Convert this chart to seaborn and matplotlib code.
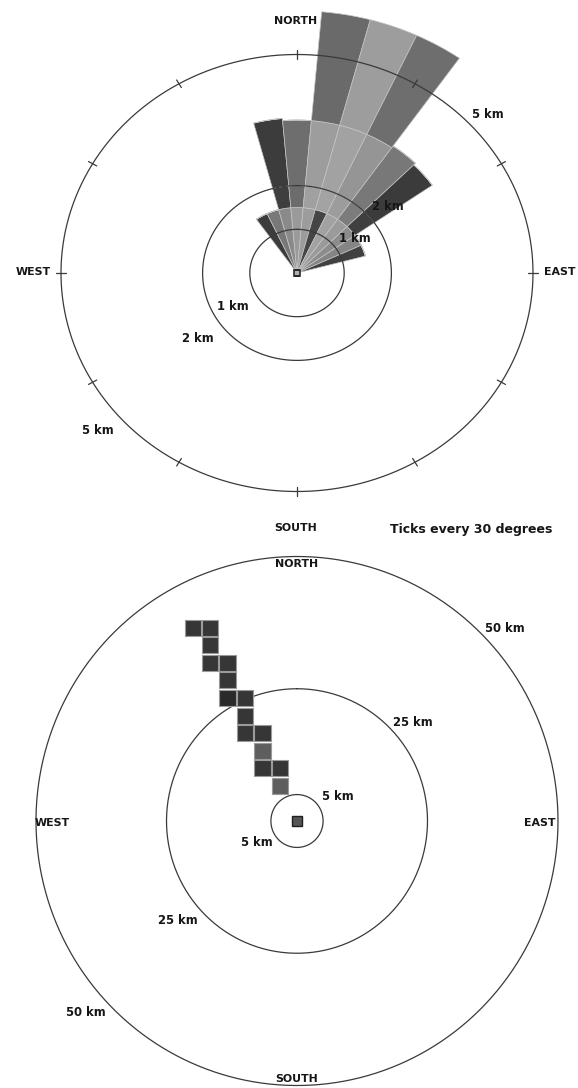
import numpy as np
import matplotlib
matplotlib.use("Agg")
import matplotlib.pyplot as plt
import seaborn as sns
import pandas as pd

# ---- top chart: sector rose (directions in degrees clockwise from north) ----
sector_dirs = [-30, -20, -10, 0, 10, 20, 30, 40, 50, 60, 70]
# stacked ring segments, km
ring_inner = [1.5, 1.5, 1.5, 1.5, 1.5, 1.5, 1.5, 1.5, 1.5, 1.5, 1.5]
ring_mid = [0, 0, 0.5, 0.5, 0.5, 0.5, 0.5, 0.5, 0.5, 0, 0]
ring_upper = [0, 0, 1.55, 1.5, 1.5, 1.5, 1.5, 1.55, 1.5, 0, 0]
ring_outer = [0, 0, 0, 0, 2.5, 2.5, 2.5, 0, 0, 0, 0]
shade_inner = ["#3c3c3c", "#787878", "#8a8a8a", "#9a9a9a", "#9c9c9c", "#454545",
               "#a2a2a2", "#9a9a9a", "#8c8c8c", "#858585", "#404040"]
shade_mid = ["#3e3e3e", "#3e3e3e", "#3e3e3e", "#6c6c6c", "#a0a0a0", "#a3a3a3",
             "#9c9c9c", "#7c7c7c", "#3f3f3f", "#3f3f3f", "#3f3f3f"]
shade_upper = ["#3c3c3c", "#3c3c3c", "#3c3c3c", "#6e6e6e", "#9d9d9d", "#a2a2a2",
               "#959595", "#787878", "#3b3b3b", "#3b3b3b", "#3b3b3b"]
shade_outer = ["#6a6a6a", "#6a6a6a", "#6a6a6a", "#6a6a6a", "#6a6a6a", "#9d9d9d",
               "#6e6e6e", "#6e6e6e", "#6e6e6e", "#6e6e6e", "#6e6e6e"]
top_circles = [1, 2, 5]
tick_dirs = [0, 30, 60, 90, 120, 150, 180, 210, 240, 270, 300, 330]

# ---- bottom chart: grid cells of the track (km east / km north) ----
cell_east = [-19.9, -16.6, -16.6, -16.6, -13.3, -13.3, -13.3, -10.0,
             -10.0, -10.0, -6.6, -6.6, -6.6, -3.3, -3.3]
cell_north = [36.5, 36.5, 33.2, 29.9, 29.9, 26.6, 23.2, 23.2,
              19.9, 16.6, 16.6, 13.3, 10.0, 10.0, 6.6]
cell_shade = ["d", "d", "d", "d", "d", "d", "k", "d",
              "d", "d", "d", "m", "d", "d", "m"]
bottom_circles = [5, 25, 50]

W, H = 578, 1088
sns.set_style("white")
plt.rcParams['font.family'] = ['DejaVu Sans']
fig = plt.figure(figsize=(W / 100, H / 100), dpi=100)

LINE = "#3a3a3a"
FS_CAPS = 7.9
FS_KM = 8.4


def label(x, y, s, size=FS_KM, **kw):
    fig.text(x / W, 1 - y / H, s, ha="center", va="center",
             fontsize=size, fontweight="bold", color="#161616", **kw)


# ---------------- top polar axes, slightly wider than tall like the scan
cx, cy, R = 297, 273, 6.2
sx, sy = 47.2, 43.7
ax = fig.add_axes([(cx - R * sx) / W, 1 - (cy + R * sy) / H,
                   2 * R * sx / W, 2 * R * sy / H], projection="polar")
ax.set_theta_zero_location("N")
ax.set_theta_direction(-1)
ax.set_aspect("auto")
ax.set_rlim(0, R)

theta = np.deg2rad(sector_dirs)
width = np.deg2rad(10)
bottom = np.zeros(len(sector_dirs))
for heights, shades in [(ring_inner, shade_inner), (ring_mid, shade_mid),
                        (ring_upper, shade_upper), (ring_outer, shade_outer)]:
    h = np.array(heights, dtype=float)
    ax.bar(theta, h, width=width, bottom=bottom, color=shades,
           edgecolor="#c4c4c4", linewidth=0.5, zorder=2)
    bottom = bottom + h

t = np.linspace(0, 2 * np.pi, 400)
for r in top_circles:
    ax.plot(t, np.full_like(t, r), color=LINE, lw=0.9, zorder=3)
for d in tick_dirs:
    a = np.deg2rad(d)
    ax.plot([a, a], [4.9, 5.1], color=LINE, lw=0.9, zorder=3)
ax.plot([0], [0], marker="s", ms=5, mfc="#b0b0b0", mec="#2a2a2a",
        mew=1.2, zorder=4)
ax.grid(False)
ax.set_xticks([])
ax.set_yticks([])
ax.spines["polar"].set_visible(False)
ax.patch.set_alpha(0)

label(296, 21, "NORTH", FS_CAPS)
label(296, 528, "SOUTH", FS_CAPS)
label(33.5, 272, "WEST", FS_CAPS)
label(560, 272, "EAST", FS_CAPS)
label(471.5, 530, "Ticks every 30 degrees", 9.0)
label(488, 114, "5 km")
label(97.5, 431, "5 km")
label(388, 207, "2 km")
label(198, 339, "2 km")
label(355, 238, "1 km")
label(233, 307, "1 km")

# ---------------- bottom chart (km east / north)
bx, by = 297, 821
kx, ky = 5.22, 5.29
top_px = 550
ax2 = fig.add_axes([0, 0, 1, (H - top_px) / H])
ax2.set_xlim(-bx / kx, (W - bx) / kx)
ax2.set_ylim(-(H - by) / ky, (by - top_px) / ky)
ax2.axis("off")

for r in bottom_circles:
    ax2.plot(r * np.sin(t), r * np.cos(t), color=LINE, lw=0.9, zorder=1)

cells = pd.DataFrame({"east": cell_east, "north": cell_north,
                      "shade": cell_shade})
side_pt = 16.2 * 72 / 100
sns.scatterplot(data=cells, x="east", y="north", hue="shade",
                palette={"d": "#363636", "k": "#2a2a2a", "m": "#5e5e5e"},
                marker="s", s=side_pt ** 2, edgecolor="#9a9a9a",
                linewidth=0.8, legend=False, ax=ax2, zorder=3)
ax2.plot([0], [0], marker="s", ms=6.5, mfc="#555555", mec="#1e1e1e",
         mew=1.0, zorder=4)
ax2.set_xlabel("")
ax2.set_ylabel("")

label(297, 564, "NORTH", FS_CAPS)
label(297, 1079, "SOUTH", FS_CAPS)
label(52.5, 823, "WEST", FS_CAPS)
label(540, 823, "EAST", FS_CAPS)
label(504.5, 629, "50 km")
label(412.5, 722, "25 km")
label(338, 797, "5 km")
label(257, 843, "5 km")
label(178, 920, "25 km")
label(86, 1013, "50 km")

fig.savefig("out.png", dpi=100)
